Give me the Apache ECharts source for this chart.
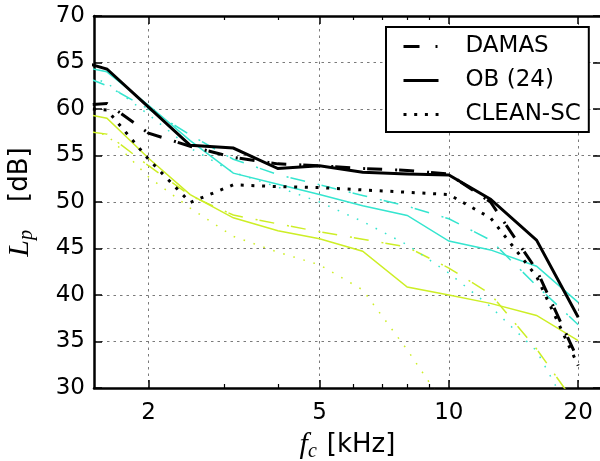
<!DOCTYPE html>
<html><head><meta charset="utf-8">
<script src="https://cdn.jsdelivr.net/npm/echarts@6/dist/echarts.min.js"></script>
<style>html,body{margin:0;padding:0;background:#fff}#c{width:600px;height:461px}</style>
</head><body><div id="c"></div>
<script>
// third-octave band centre frequencies [kHz]
const freqs = [1.25, 1.6, 2, 2.5, 3.15, 4, 5, 6.3, 8, 10, 12.5, 16, 20];
// black
const obBlack     = [65.7, 64.3, 60.2, 56.1, 55.8, 53.6, 53.9, 53.2, 53.0, 52.9, 50.3, 45.9, 37.6];
const damasBlack  = [60.2, 60.6, 57.4, 56.0, 54.8, 54.1, 53.9, 53.6, 53.4, 53.0, 50.0, 42.7, 33.0];
const cleanBlack  = [60.2, 59.9, 54.6, 49.95, 51.85, 51.65, 51.55, 51.3, 51.05, 50.8, 48.3, 42.0, 32.4];
// cyan
const obCyan      = [65.0, 64.0, 60.4, 56.6, 53.1, 51.9, 50.8, 49.6, 48.55, 45.8, 44.85, 43.1, 39.2];
const damasCyan   = [64.5, 62.5, 60.0, 57.2, 54.6, 52.95, 51.85, 50.7, 49.55, 48.2, 45.9, 41.0, 36.8];
const cleanCyan   = [64.5, 62.8, 59.4, 55.8, 53.2, 51.6, 50.0, 47.9, 45.4, 42.35, 38.75, 34.0, 25.8];
// yellow
const obYellow    = [60.0, 59.0, 54.7, 50.8, 48.3, 46.9, 46.05, 44.7, 40.85, 40.0, 39.1, 37.8, 35.1];
const damasYellow = [58.0, 57.3, 53.9, 50.7, 48.6, 47.65, 46.8, 46.0, 45.15, 42.9, 40.1, 34.2, 27.9];
const cleanYellow = [58.2, 57.2, 52.7, 49.35, 46.3, 44.6, 43.25, 40.55, 34.1, 27.5];

const legendNames = ['DAMAS', 'OB (24)', 'CLEAN-SC'];
const majorX = [2, 5, 10, 20];
const minorX = [3, 4, 6, 7, 8, 9];
const xMin = 1.493, xMax = 22.6;
const yMin = 30, yMax = 70, yStep = 5;

const BLACK = '#000000', CYAN = '#35e5cf', YEL = '#cdee26';
const DASHDOT = [15, 13, 2, 2];

function mk(name, vals, color, width, type, z) {
  return {
    name: name, type: 'line', xAxisIndex: 0, yAxisIndex: 0,
    data: vals.map((v, i) => [freqs[i], v]),
    symbol: 'none', showSymbol: false, clip: true, silent: true, z: z,
    lineStyle: { color: color, width: width, type: type, cap: 'butt', join: 'miter' },
    itemStyle: { color: color },
    emphasis: { disabled: true }
  };
}

const hidden = {
  axisLine: { show: false }, axisTick: { show: false }, axisLabel: { show: false },
  splitLine: { show: false }, minorTick: { show: false }
};
function xAx(pos, extra) {
  return Object.assign({ type: 'log', logBase: 10, position: pos, min: xMin, max: xMax }, hidden, extra);
}
const spine = { show: true, lineStyle: { color: '#000', width: 2.5 } };
const grid = { show: true, color: '#7a7a7a', width: 1, type: [2.5, 4] };
function nameRich(gap) {
  return {
    i: { fontFamily: 'Liberation Serif', fontStyle: 'italic', fontSize: 30, color: '#000' },
    s: { fontFamily: 'Liberation Serif', fontStyle: 'italic', fontSize: 20, color: '#000', padding: [13, 0, 0, 0] },
    t: { fontFamily: 'DejaVu Sans', fontSize: 26, color: '#000', padding: [0, 0, 0, gap] }
  };
}

const chart = echarts.init(document.getElementById('c'), null, { renderer: 'canvas' });
chart.setOption({
  animation: false,
  backgroundColor: '#fff',
  grid: { left: 94, right: -1, top: 16, bottom: 73, containLabel: false, outerBoundsMode: 'none' },
  legend: {
    data: [
      { name: legendNames[0], lineStyle: { width: 3, type: [16, 16, 2, 10], color: '#000' } },
      { name: legendNames[1], lineStyle: { width: 3, type: 'solid', color: '#000' } },
      { name: legendNames[2], lineStyle: { width: 3, type: [3, 7.7], color: '#000' } }
    ],
    orient: 'vertical', left: 386, top: 27,
    backgroundColor: '#fff', borderColor: '#000', borderWidth: 2, borderRadius: 0,
    padding: [8, 8, 6, 16], itemWidth: 35, itemHeight: 24, itemGap: 11,
    selectedMode: false,
    lineStyle: { width: 3 },
    itemStyle: { opacity: 0, color: 'transparent', borderWidth: 0 },
    textStyle: { fontSize: 23, fontFamily: 'DejaVu Sans', color: '#000', padding: [0, 0, 0, 22] }
  },
  xAxis: [
    xAx('bottom', {
      axisLine: spine,
      axisTick: { show: true, inside: true, length: 8, customValues: majorX, lineStyle: { color: '#000', width: 1.5 } },
      axisLabel: { show: true, customValues: majorX, fontSize: 23, fontFamily: 'DejaVu Sans', color: '#000', margin: 14,
                   formatter: v => String(+(+v).toFixed(2)) },
      splitLine: { show: true, lineStyle: grid },
      name: '{i|f}{s|c}{t|[kHz]}', nameLocation: 'middle', nameGap: 30,
      nameTextStyle: { rich: nameRich(10) }
    }),
    xAx('bottom', { axisTick: { show: true, inside: true, length: 4, customValues: minorX, lineStyle: { color: '#000', width: 1.2 } } }),
    xAx('top', {
      axisLine: spine,
      axisTick: { show: true, inside: true, length: 8, customValues: majorX, lineStyle: { color: '#000', width: 1.5 } }
    }),
    xAx('top', { axisTick: { show: true, inside: true, length: 4, customValues: minorX, lineStyle: { color: '#000', width: 1.2 } } })
  ],
  yAxis: [
    {
      type: 'value', position: 'left', min: yMin, max: yMax, interval: yStep,
      axisLine: spine,
      axisTick: { show: true, inside: true, length: 8, lineStyle: { color: '#000', width: 1.5 } },
      axisLabel: { fontSize: 23, fontFamily: 'DejaVu Sans', color: '#000', margin: 9 },
      splitLine: { show: true, lineStyle: grid },
      name: '{i|L}{s|p}{t|[dB]}', nameLocation: 'middle', nameGap: 57,
      nameTextStyle: { rich: nameRich(28) }
    },
    {
      type: 'value', position: 'right', min: yMin, max: yMax, interval: yStep,
      axisLine: spine,
      axisTick: { show: true, inside: true, length: 8, lineStyle: { color: '#000', width: 1.5 } },
      axisLabel: { show: false }, splitLine: { show: false }
    }
  ],
  series: [
    mk('y-dotted', cleanYellow, YEL, 1.5, [1.6, 8.9], 2),
    mk('y-dashed', damasYellow, YEL, 1.5, DASHDOT, 2),
    mk('y-solid', obYellow, YEL, 1.5, 'solid', 2),
    mk('c-dotted', cleanCyan, CYAN, 1.5, [1.6, 8.9], 3),
    mk('c-dashed', damasCyan, CYAN, 1.5, DASHDOT, 3),
    mk('c-solid', obCyan, CYAN, 1.5, 'solid', 3),
    mk('CLEAN-SC', cleanBlack, BLACK, 3, [3, 7.7], 4),
    mk('DAMAS', damasBlack, BLACK, 3, DASHDOT, 4),
    mk('OB (24)', obBlack, BLACK, 3, 'solid', 4)
  ]
});
</script>
</body></html>
